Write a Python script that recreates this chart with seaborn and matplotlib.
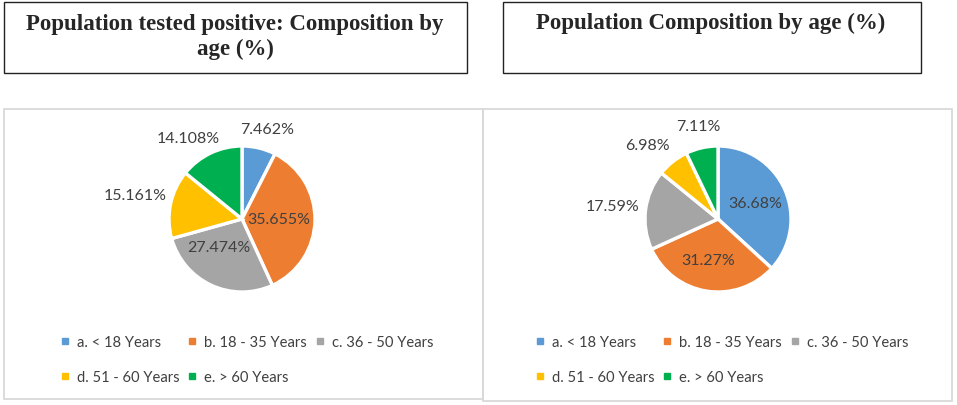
import numpy as np
import matplotlib
matplotlib.use("Agg")
import matplotlib.pyplot as plt
import seaborn as sns
from matplotlib.patches import Rectangle
from matplotlib.lines import Line2D

# Data
age_groups = ["a. < 18 Years", "b. 18 - 35 Years", "c. 36 - 50 Years",
              "d. 51 - 60 Years", "e. > 60 Years"]
positive_pct = [7.462, 35.655, 27.474, 15.161, 14.108]
population_pct = [36.68, 31.27, 17.59, 6.98, 7.11]
positive_labels = ["7.462%", "35.655%", "27.474%", "15.161%", "14.108%"]
population_labels = ["36.68%", "31.27%", "17.59%", "6.98%", "7.11%"]
titles = ["Population tested positive: Composition by\nage (%)",
          "Population Composition by age (%)"]

colors = ["#5B9BD5", "#ED7D31", "#A5A5A5", "#FFC000", "#00B050"]

sns.set_style("white")
plt.rcParams["font.family"] = ["Lato", "DejaVu Sans"]

W, H = 957, 406
fig = plt.figure(figsize=(W / 100, H / 100), dpi=100)


def fx(x):
    return x / W


def fy(y):
    return 1 - y / H


def box(x0, y0, x1, y1, color, lw):
    fig.patches.append(Rectangle((fx(x0), fy(y1)), fx(x1) - fx(x0), fy(y0) - fy(y1),
                                 transform=fig.transFigure, fill=False,
                                 edgecolor=color, linewidth=lw))


# title boxes
box(4, 3, 467, 74, "#222222", 1.0)
box(503, 3, 921, 74, "#222222", 1.0)
fig.text(fx(235), fy(37), titles[0], ha="center", va="center", fontsize=16.5,
         fontweight="bold", family="Liberation Serif", linespacing=1.25)
fig.text(fx(711), fy(23), titles[1], ha="center", va="center", fontsize=16.5,
         fontweight="bold", family="Liberation Serif")

# chart boxes
box(4, 110, 483, 400, "#D9D9D9", 1.3)
box(483, 110, 952, 402, "#D9D9D9", 1.3)

# label placement (radius factor, angle shift in degrees)
pos_dist = [1.28, 0.5, 0.5, 1.5, 1.33]
pos_shift = [-2, 1, -15, -1, 8]
pop_dist = [0.55, 0.58, 1.45, 1.4, 1.3]
pop_shift = [0, -5, 0, 5, -1]


def draw_pie(cx, cy, r, values, labels, dist, shift, legend_xy):
    ax = fig.add_axes([fx(cx - r), fy(cy + r), (2 * r) / W, (2 * r) / H])
    wedges, _ = ax.pie(values, colors=colors, startangle=90, counterclock=False,
                       wedgeprops=dict(edgecolor="white", linewidth=2.4))
    ax.set_xlim(-1, 1)
    ax.set_ylim(-1, 1)
    ax.set_aspect("equal")
    for w, lab, d, s in zip(wedges, labels, dist, shift):
        ang = np.deg2rad((w.theta1 + w.theta2) / 2 + s)
        ax.text(d * np.cos(ang), d * np.sin(ang), lab, ha="center", va="center",
                fontsize=11.5, color="#404040", clip_on=False)

    handles = [Line2D([], [], marker="s", linestyle="none", markersize=5,
                      markerfacecolor=c, markeredgecolor=c) for c in colors]
    order = [0, 3, 1, 4, 2]
    fig.legend([handles[i] for i in order], [age_groups[i] for i in order],
               ncol=3, loc="upper left", bbox_to_anchor=(fx(legend_xy[0]), fy(legend_xy[1])),
               frameon=False, fontsize=10.6, handlelength=0.75, handletextpad=0.45,
               columnspacing=0.5, labelspacing=1.45, borderpad=0, borderaxespad=0,
               labelcolor="#404040")


draw_pie(242, 220, 73, positive_pct, positive_labels, pos_dist, pos_shift, (59, 336))
draw_pie(718, 220, 73, population_pct, population_labels, pop_dist, pop_shift, (534, 336))

fig.savefig("out.png", dpi=100)
